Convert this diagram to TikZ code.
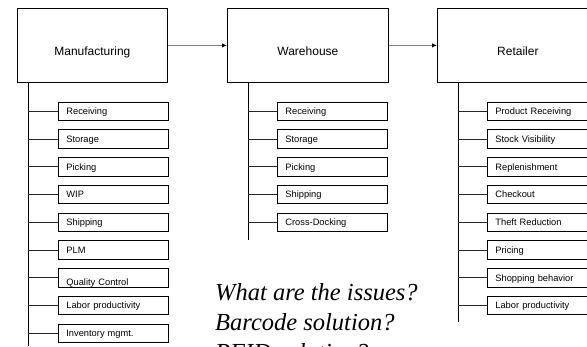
\documentclass[tikz,border=0pt]{standalone}
\usepackage{fontspec}
\setmainfont{Liberation Sans}
\newfontfamily\questionfont{Liberation Serif}
\usetikzlibrary{arrows.meta}
\begin{document}
\begin{tikzpicture}[x=1pt,y=-1pt,
  stage/.style={draw=black, line width=0.8pt, anchor=north west,
    minimum height=74pt, inner sep=0pt, text height=20.6pt, text depth=0pt,
    font=\fontsize{12}{14}\selectfont},
  task/.style={draw=black, line width=0.8pt, anchor=north west,
    minimum height=18.5pt, text width=94pt, align=left,
    inner xsep=8pt, inner ysep=0pt, text height=6.7pt, text depth=0pt,
    font=\fontsize{9.3}{11}\selectfont},
  lowtext/.style={text height=14.7pt},
  trunk/.style={draw=black, line width=0.8pt},
  branch/.style={draw=black!85, line width=0.8pt},
  flow/.style={draw=black!50, line width=1pt,
    -{Latex[length=5pt,width=4.5pt,color=black]}},
  question/.style={anchor=base west, align=left, inner sep=0pt,
    font=\questionfont\itshape\fontsize{24.5}{30}\selectfont}
]
\useasboundingbox (0,0) rectangle (587,346);
\clip (0,0) rectangle (587,346);

% stages of the chain
\node[stage, minimum width=150pt] (mfg) at (17,8) {Manufacturing};
\node[stage, minimum width=161pt] (wh)  at (227,8) {Warehouse};
\node[stage, minimum width=161pt] (ret) at (437,8) {Retailer};

\draw[flow] (mfg.east) -- (wh.west);
\draw[flow] (wh.east) -- (ret.west);

% trunk lines below each stage
\coordinate (mtop) at (28,82);   \coordinate (mbot) at (28,346);
\coordinate (wtop) at (248,82);  \coordinate (wbot) at (248,240);
\coordinate (rtop) at (458,82);  \coordinate (rbot) at (458,322);
\draw[trunk] (mtop) -- (mbot);
\draw[trunk] (wtop) -- (wbot);
\draw[trunk] (rtop) -- (rbot);

% manufacturing tasks
\foreach \t [count=\i from 0] in {Receiving, Storage, Picking, WIP, Shipping, PLM,
    Quality Control, Labor productivity, Inventory mgmt.}{
  \ifnum\i=6
    \node[task, lowtext] (m\i) at (58,{101.7+27.75*\i}) {\t};
  \else
    \node[task] (m\i) at (58,{101.7+27.75*\i}) {\t};
  \fi
  \draw[branch] (mtop |- m\i.west) -- (m\i.west);
}

% warehouse tasks
\foreach \t [count=\i from 0] in {Receiving, Storage, Picking, Shipping, Cross-Docking}{
  \node[task] (w\i) at (277,{101.7+27.75*\i}) {\t};
  \draw[branch] (wtop |- w\i.west) -- (w\i.west);
}

% retailer tasks
\foreach \t [count=\i from 0] in {Product Receiving, Stock Visibility, Replenishment,
    Checkout, Theft Reduction, Pricing, Shopping behavior, Labor productivity}{
  \node[task] (r\i) at (487,{101.7+27.75*\i}) {\t};
  \draw[branch] (rtop |- r\i.west) -- (r\i.west);
}

% questions (base anchor sits on the last line)
\node[question] (q) at (215,360) {What are the issues?\\Barcode solution?\\RFID solution?};
\end{tikzpicture}
\end{document}
